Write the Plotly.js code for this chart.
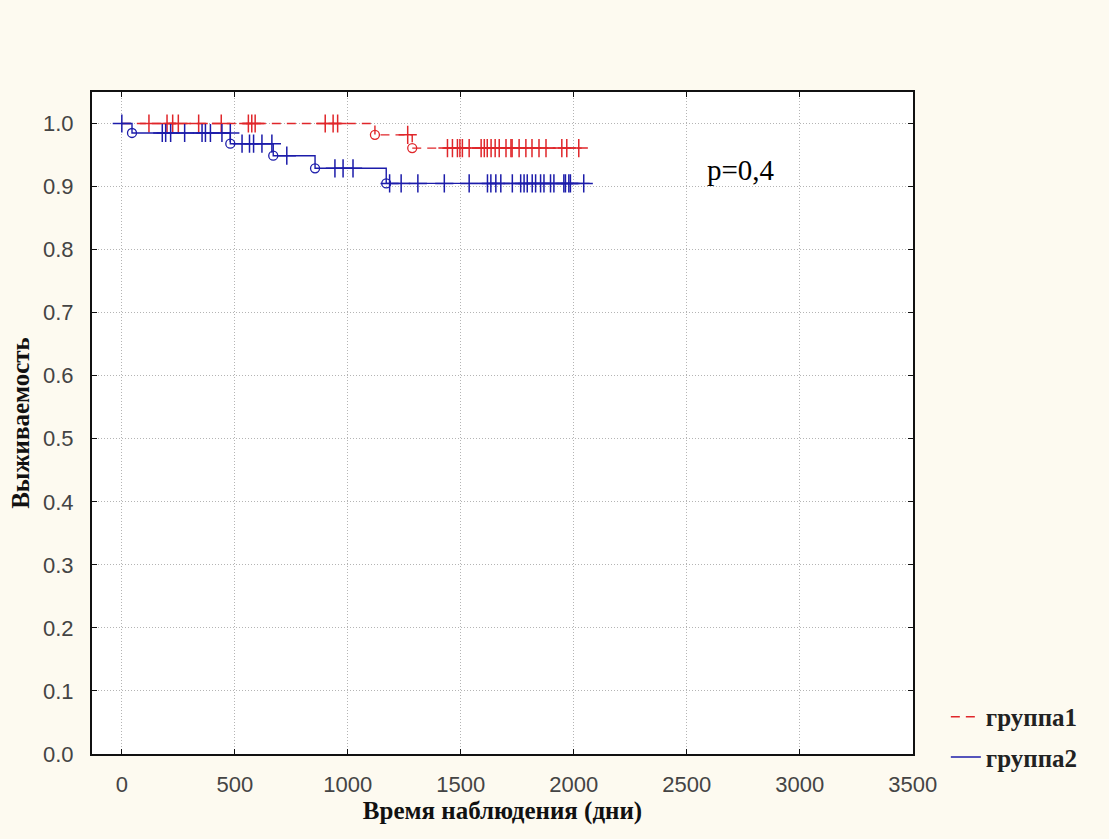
<!DOCTYPE html>
<html>
<head>
<meta charset="utf-8">
<script src="https://cdn.plot.ly/plotly-3.0.1.min.js"></script>
<style>html,body{margin:0;padding:0;background:#fdfaf0;}#chart{width:1109px;height:839px;}</style>
</head>
<body>
<div id="chart"></div>
<script>
// Group 1 (группа1) — Kaplan–Meier step curve
const g1Times = [0, 1120, 1285, 2035];
const g1Surv  = [1.0, 0.982, 0.961, 0.961];
const g1EventTimes = [1120, 1285];
const g1EventSurv  = [0.982, 0.961];
const g1CensorTimes = [120, 200, 225, 250, 340, 440, 560, 575, 590, 900, 935, 955, 1265,
  1441, 1463, 1485, 1496, 1507, 1537, 1590, 1604, 1617, 1634, 1652, 1670, 1700, 1722, 1727,
  1758, 1788, 1815, 1846, 1877, 1947, 1969, 2022];
const g1CensorSurv = [1, 1, 1, 1, 1, 1, 1, 1, 1, 1, 1, 1, 0.982,
  0.961, 0.961, 0.961, 0.961, 0.961, 0.961, 0.961, 0.961, 0.961, 0.961, 0.961, 0.961, 0.961, 0.961, 0.961,
  0.961, 0.961, 0.961, 0.961, 0.961, 0.961, 0.961, 0.961];

// Group 2 (группа2)
const g2Times = [0, 45, 480, 670, 855, 1170, 2070];
const g2Surv  = [1.0, 0.985, 0.968, 0.949, 0.929, 0.905, 0.905];
const g2EventTimes = [45, 480, 670, 855, 1170];
const g2EventSurv  = [0.985, 0.968, 0.949, 0.929, 0.905];
const g2CensorTimes = [0, 179, 194, 216, 278, 355, 370, 392, 443, 480,
  532, 565, 583, 620, 664,
  730,
  943, 979, 1023,
  1185, 1236, 1310, 1427, 1537, 1618, 1633, 1655, 1677, 1728, 1765, 1780, 1794, 1816, 1831,
  1853, 1868, 1897, 1912, 1956, 1963, 1978, 1985, 2044];
const g2CensorSurv = [1.0, 0.985, 0.985, 0.985, 0.985, 0.985, 0.985, 0.985, 0.985, 0.985,
  0.968, 0.968, 0.968, 0.968, 0.968,
  0.949,
  0.929, 0.929, 0.929,
  0.905, 0.905, 0.905, 0.905, 0.905, 0.905, 0.905, 0.905, 0.905, 0.905, 0.905, 0.905, 0.905, 0.905, 0.905,
  0.905, 0.905, 0.905, 0.905, 0.905, 0.905, 0.905, 0.905, 0.905];

const seriesNames = ['группа1', 'группа2'];
const xTicks = [0, 500, 1000, 1500, 2000, 2500, 3000, 3500];
const yTicks = [0, 0.1, 0.2, 0.3, 0.4, 0.5, 0.6, 0.7, 0.8, 0.9, 1.0];
const pText = 'p=0,4';

const RED = '#e0262a';
const BLUE = '#1c1caa';

const traces = [
  {x: g1Times, y: g1Surv, mode: 'lines', line: {shape: 'hv', color: RED, width: 1.4, dash: '9px,6px'},
   name: seriesNames[0], legend: 'legend'},
  {x: g1CensorTimes, y: g1CensorSurv, mode: 'markers', showlegend: false, hoverinfo: 'skip',
   marker: {symbol: 'cross-thin', size: 13, line: {color: RED, width: 1.5}}},
  {x: g1EventTimes, y: g1EventSurv, mode: 'markers', showlegend: false,
   marker: {symbol: 'circle-open', size: 9, color: RED, line: {width: 1.3}}},
  {x: g2Times, y: g2Surv, mode: 'lines', line: {shape: 'hv', color: BLUE, width: 1.4},
   name: seriesNames[1], legend: 'legend2'},
  {x: g2CensorTimes, y: g2CensorSurv, mode: 'markers', showlegend: false, hoverinfo: 'skip',
   marker: {symbol: 'cross-thin', size: 13, line: {color: BLUE, width: 1.5}}},
  {x: g2EventTimes, y: g2EventSurv, mode: 'markers', showlegend: false,
   marker: {symbol: 'circle-open', size: 9, color: BLUE, line: {width: 1.3}}}
];

const tickFont = {family: 'Liberation Sans, Arial, sans-serif', size: 22, color: '#444'};
const titleFont = {family: 'Liberation Serif, Times New Roman, serif', size: 25, color: '#111', weight: 'bold'};
const legFont = {family: 'Liberation Serif, Times New Roman, serif', size: 25, color: '#222', weight: 'bold'};

const layout = {
  width: 1109, height: 839,
  margin: {l: 92, r: 196, t: 92, b: 85},
  paper_bgcolor: '#fdfaf0',
  plot_bgcolor: '#ffffff',
  xaxis: {
    range: [-132, 3501], tickvals: xTicks, ticktext: xTicks.map(String),
    showgrid: true, gridcolor: '#b4b4b4', griddash: '1px,2px', gridwidth: 1,
    zeroline: false, showline: true, linecolor: '#111', linewidth: 2, mirror: 'ticks',
    ticks: 'inside', ticklen: 5, tickcolor: '#111', tickfont: tickFont, ticklabelstandoff: 10,
    title: {text: 'Время наблюдения (дни)', font: titleFont, standoff: 2}
  },
  yaxis: {
    range: [0, 1.05], tickvals: yTicks, ticktext: yTicks.map(v => v.toFixed(1)),
    showgrid: true, gridcolor: '#b4b4b4', griddash: '1px,2px', gridwidth: 1,
    zeroline: false, showline: true, linecolor: '#111', linewidth: 2, mirror: 'ticks',
    ticks: 'inside', ticklen: 5, tickcolor: '#111', tickfont: tickFont, ticklabelstandoff: 12,
    title: {text: 'Выживаемость', font: titleFont, standoff: 6}
  },
  legend: {x: 1.04, y: 0.056, xanchor: 'left', yanchor: 'middle', font: legFont,
    bgcolor: 'rgba(0,0,0,0)', itemwidth: 30},
  legend2: {x: 1.04, y: -0.005, xanchor: 'left', yanchor: 'middle', font: legFont,
    bgcolor: 'rgba(0,0,0,0)', itemwidth: 30},
  shapes: [{type: 'rect', xref: 'paper', yref: 'paper', x0: 0.726, x1: 0.905, y0: 0.842, y1: 0.938,
    fillcolor: '#ffffff', line: {width: 0}, layer: 'between'}],
  annotations: [{xref: 'paper', yref: 'paper', x: 0.747, y: 0.882, xanchor: 'left', yanchor: 'middle',
    text: pText, showarrow: false,
    font: {family: 'Liberation Serif, Times New Roman, serif', size: 29, color: '#000'}}]
};

Plotly.newPlot('chart', traces, layout, {displayModeBar: false, staticPlot: true});
</script>
</body>
</html>
